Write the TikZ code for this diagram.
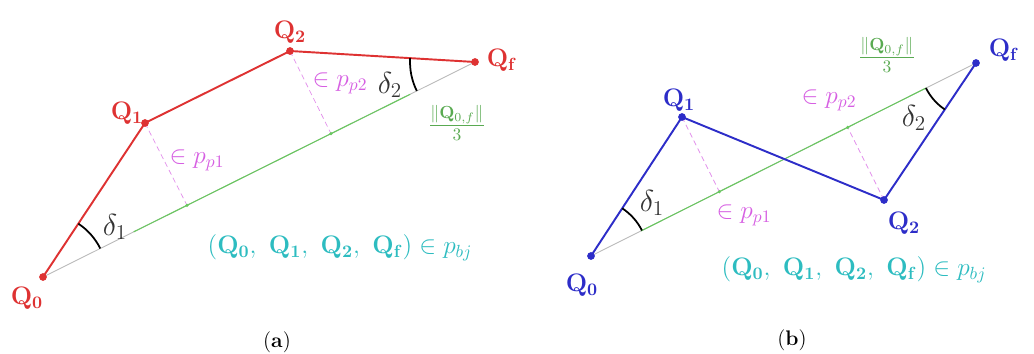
\documentclass[tikz,border=0pt]{standalone}
\usepackage{amsmath}
\usetikzlibrary{calc,angles}
\definecolor{pathred}{RGB}{222,50,50}
\definecolor{pathblue}{RGB}{45,45,200}
\definecolor{projpink}{RGB}{214,95,226}
\definecolor{chordgreen}{RGB}{105,200,95}
\definecolor{tuplecyan}{RGB}{45,188,192}
\tikzset{
  chord/.style={gray!55,line width=0.5pt},
  chordmid/.style={chordgreen,line width=0.6pt},
  proj/.style={projpink!70,densely dashed,line width=0.4pt},
  legs/.style={line width=1.1pt,line join=round},
  wedge/.style={draw,line width=1pt,angle radius=#1},
  vlabel/.style={font=\Large},
  projlabel/.style={font=\Large,text=projpink},
  anglelabel/.style={font=\LARGE,text=black!80},
  fraclabel/.style={font=\Large,text=chordgreen!85!black},
  tuplelabel/.style={font=\Large,text=tuplecyan},
  caption/.style={font=\large}
}
\begin{document}
\begin{tikzpicture}[x=0.02cm,y=-0.02cm]
    \useasboundingbox (0,0) rectangle (1034,354);
    % (a) path points, pixel grid
    \coordinate (aQ0) at (43,277);
    \coordinate (aQ1) at (145,123);
    \coordinate (aQ2) at (290,51);
    \coordinate (aQf) at (475,62);
    \coordinate (aM1) at ($(aQ0)!1/3!(aQf)$);
    \coordinate (aM2) at ($(aQ0)!2/3!(aQf)$);
    \coordinate (aG1) at ($(aQ0)!0.21!(aQf)$);
    \coordinate (aG2) at ($(aQ0)!0.85!(aQf)$);
    % chord and projections
    \draw[chord] (aQ0) -- (aQf);
    \draw[chordmid] (aG1) -- (aG2);
    \draw[proj] (aQ1) -- (aM1);
    \draw[proj] (aQ2) -- (aM2);
    \fill[chordgreen] (aM1) circle (1pt) (aM2) circle (1pt);
    % path
    \draw[legs,pathred] (aQ0) -- (aQ1) -- (aQ2) -- (aQf);
    \pic[wedge=1.28cm] {angle=aQf--aQ0--aQ1};
    \pic[wedge=1.3cm] {angle=aQ2--aQf--aQ0};
    \fill[pathred] (aQ0) circle (2.2pt) (aQ1) circle (2.2pt)
                   (aQ2) circle (2.2pt) (aQf) circle (2.2pt);
    % labels
    \node[vlabel,text=pathred] (aL0) at (27,298) {$\mathbf{Q_0}$};
    \node[vlabel,text=pathred] (aL1) at (127,113) {$\mathbf{Q_1}$};
    \node[vlabel,text=pathred] (aL2) at (290,32) {$\mathbf{Q_2}$};
    \node[vlabel,text=pathred] (aLf) at (502,60) {$\mathbf{Q_f}$};
    \node[projlabel] (aP1) at (197,160) {$\in p_{p1}$};
    \node[projlabel] (aP2) at (340,83) {$\in p_{p2}$};
    \node[anglelabel] (aD1) at (115,227) {$\delta_1$};
    \node[anglelabel] (aD2) at (390,85) {$\delta_2$};
    \node[fraclabel] (aFr) at (457,123) {$\frac{\|\mathbf{Q}_{0,f}\|}{3}$};
    \node[tuplelabel] (aTup) at (340,248)
      {$(\mathbf{Q_0},\ \mathbf{Q_1},\ \mathbf{Q_2},\ \mathbf{Q_f})\in p_{bj}$};
    \node[caption] (aCap) at (277,342) {(\textbf{a})};
    % (b) path points, pixel grid
    \coordinate (bQ0) at (591,256);
    \coordinate (bQ1) at (682,117);
    \coordinate (bQ2) at (884,200);
    \coordinate (bQf) at (976,63);
    \coordinate (bM1) at ($(bQ0)!1/3!(bQf)$);
    \coordinate (bM2) at ($(bQ0)!2/3!(bQf)$);
    \coordinate (bG1) at ($(bQ0)!0.13!(bQf)$);
    \coordinate (bG2) at ($(bQ0)!0.87!(bQf)$);
    % chord and projections
    \draw[chord] (bQ0) -- (bQf);
    \draw[chordmid] (bG1) -- (bG2);
    \draw[proj] (bQ1) -- (bM1);
    \draw[proj] (bQ2) -- (bM2);
    \fill[chordgreen] (bM1) circle (1pt) (bM2) circle (1pt);
    % path
    \draw[legs,pathblue] (bQ0) -- (bQ1) -- (bQ2) -- (bQf);
    \pic[wedge=1.14cm] {angle=bQf--bQ0--bQ1};
    \pic[wedge=1.12cm] {angle=bQ0--bQf--bQ2};
    \fill[pathblue] (bQ0) circle (2.2pt) (bQ1) circle (2.2pt)
                    (bQ2) circle (2.2pt) (bQf) circle (2.2pt);
    % labels
    \node[vlabel,text=pathblue] (bL0) at (582,285) {$\mathbf{Q_0}$};
    \node[vlabel,text=pathblue] (bL1) at (679,100) {$\mathbf{Q_1}$};
    \node[vlabel,text=pathblue] (bL2) at (904,223) {$\mathbf{Q_2}$};
    \node[vlabel,text=pathblue] (bLf) at (1004,50) {$\mathbf{Q_f}$};
    \node[projlabel] (bP1) at (744,215) {$\in p_{p1}$};
    \node[projlabel] (bP2) at (829,100) {$\in p_{p2}$};
    \node[anglelabel] (bD1) at (652,203) {$\delta_1$};
    \node[anglelabel] (bD2) at (914,118) {$\delta_2$};
    \node[fraclabel] (bFr) at (887,55) {$\frac{\|\mathbf{Q}_{0,f}\|}{3}$};
    \node[tuplelabel] (bTup) at (854,270)
      {$(\mathbf{Q_0},\ \mathbf{Q_1},\ \mathbf{Q_2},\ \mathbf{Q_f})\in p_{bj}$};
    \node[caption] (bCap) at (792,340) {(\textbf{b})};
\end{tikzpicture}
\end{document}
